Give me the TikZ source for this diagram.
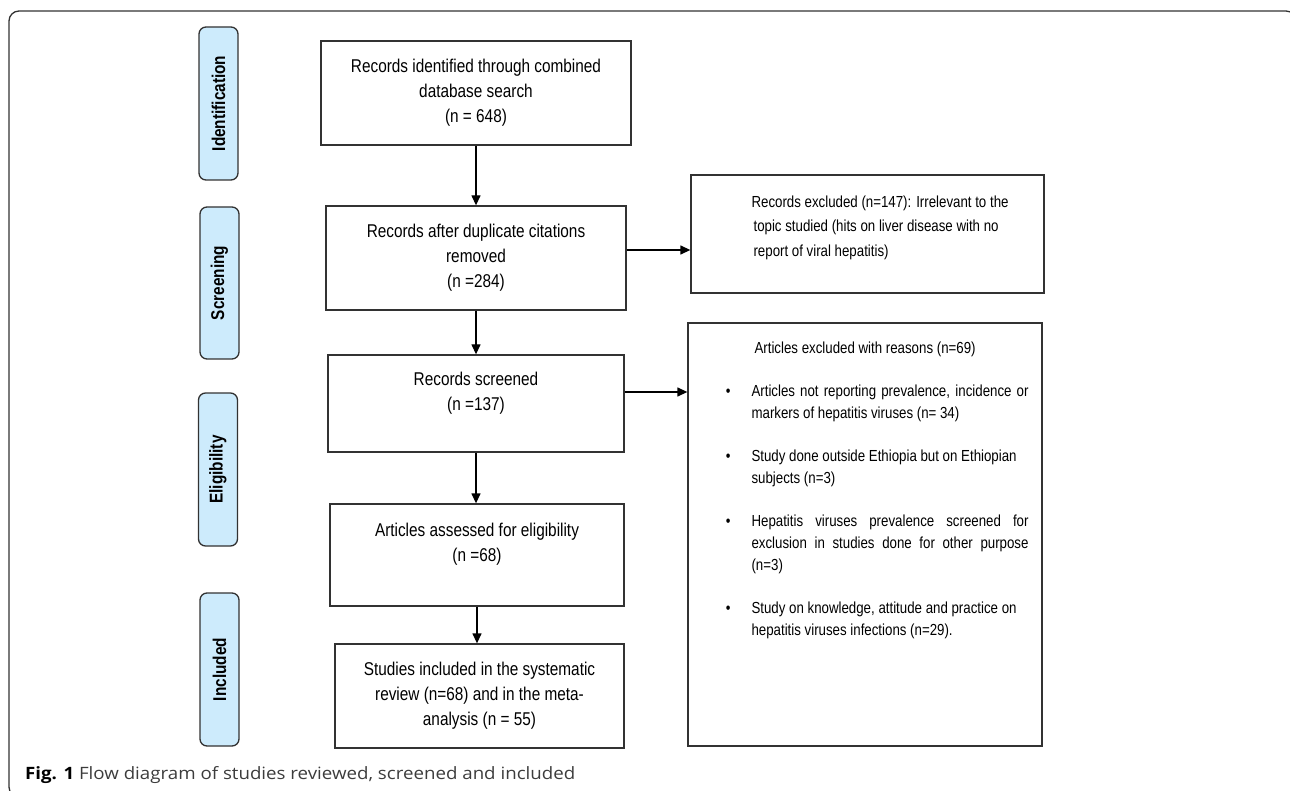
\documentclass[tikz,border=0pt]{standalone}
\usepackage{fontspec}
\setmainfont{Liberation Sans}
\newfontfamily\narrowsans{Liberation Sans}[FakeStretch=0.83]
\newfontfamily\capfamily{Open Sans}[FakeStretch=1.1]
\usetikzlibrary{arrows.meta,calc}
\definecolor{labfill}{RGB}{205,235,252}
\definecolor{edge}{RGB}{50,50,50}
\definecolor{captxt}{RGB}{60,60,60}
\newcommand{\mainfnt}{\narrowsans\fontsize{18.5}{25}\selectfont}
\newcommand{\rfnt}{\narrowsans\fontsize{16}{24.5}\selectfont}
\newcommand{\rbfnt}{\narrowsans\fontsize{16}{22}\selectfont}
\newcommand{\labfnt}{\narrowsans\bfseries\fontsize{18.5}{22}\selectfont}
\newcommand{\capfnt}{\capfamily\fontsize{17}{20}\selectfont}
\newcommand{\bulmark}{\makebox[0pt][r]{\textbullet\hspace{21pt}}}
\begin{document}
\begin{tikzpicture}[x=1pt,y=-1pt,
  box/.style={draw=edge, line width=1.3pt, inner sep=0pt, align=center, font=\mainfnt},
  xbox/.style={draw=edge, line width=1.3pt, inner sep=0pt},
  stage/.style={draw=edge, line width=1.3pt, fill=labfill, rounded corners=7pt, rotate=90, inner sep=0pt, minimum height=39pt, font=\labfnt},
  arr/.style={line width=1.3pt, -{Triangle[length=10pt,width=9pt]}},
  txt/.style={anchor=base west, inner sep=0pt}
]
\useasboundingbox (0,0) rectangle (1290,791);
\begin{scope}
\clip (0,0) rectangle (1290,791);
\draw[edge, line width=1.3pt, rounded corners=10pt] (9,11) rectangle (1296,797);
\end{scope}

% stage labels
\node[stage, minimum width=153pt] (s1) at (218.5,103.5) {Identification};
\node[stage, minimum width=152pt] (s2) at (219.5,283) {Screening};
\node[stage, minimum width=153pt] (s3) at (218,469.5) {Eligibility};
\node[stage, minimum width=153pt] (s4) at (219.5,669.5) {Included};

% main boxes
\node[box, minimum width=310pt, minimum height=104pt] (b1) at (476,93) {Records identified through combined\\database search\\(n = 648)};
\node[box, minimum width=300pt, minimum height=104pt] (b2) at (476,258) {Records after duplicate citations\\removed\\(n =284)};
\node[box, minimum width=296pt, minimum height=97pt] (b3) at (476,403.5) {Records screened\\(n =137)\\\mbox{}};
\node[box, minimum width=294pt, minimum height=102pt] (b4) at (477,555) {Articles assessed for eligibility\\(n =68)\\\mbox{}};
\node[box, minimum width=289pt, minimum height=104pt] (b5) at (479.5,696) {Studies included in the systematic\\review (n=68) and in the meta-\\analysis (n = 55)};

% right boxes
\node[xbox, minimum width=353pt, minimum height=118pt] (r1) at (867.5,234) {};
\node[txt, font=\rfnt] (r1t) at ($(r1.north west)+(61,33)$) {\parbox[t]{300pt}{\raggedright Records excluded (n=147): Irrelevant to the\\\hspace*{2pt}topic studied (hits on liver disease with no\\\hspace*{2pt}report of viral hepatitis)}};

\node[xbox, minimum width=354pt, minimum height=423pt] (r2) at (865,534.5) {};
\node[txt, font=\rbfnt] (r2t) at ($(r2.north west)+(64,31.5)$) {\parbox[t]{290pt}{\raggedright
\hspace*{3pt}Articles excluded with reasons (n=69)\\[21pt]
\bulmark\makebox[277pt][s]{Articles not reporting prevalence, incidence or}\\
markers of hepatitis viruses (n= 34)\\[21pt]
\bulmark Study done outside Ethiopia but on Ethiopian\\
subjects (n=3)\\[21pt]
\bulmark\makebox[277pt][s]{Hepatitis viruses prevalence screened for}\\
\makebox[277pt][s]{exclusion in studies done for other purpose}\\
(n=3)\\[21pt]
\bulmark Study on knowledge, attitude and practice on\\
hepatitis viruses infections (n=29).}};

% arrows
\draw[arr] (b1.south) -- (b1.south |- b2.north);
\draw[arr] (b2.south) -- (b2.south |- b3.north);
\draw[arr] (b3.south) -- (b3.south |- b4.north);
\draw[arr] (b4.south) -- (b4.south |- b5.north);
\draw[arr] (b2.east |- 0,250) -- (r1.west |- 0,250);
\draw[arr] (b3.east |- 0,392) -- (r2.west |- 0,392);

% caption
\node[txt, font=\capfnt, text=captxt] (cap) at (25,779) {\textbf{\color{black}Fig. 1} Flow diagram of studies reviewed, screened and included};
\end{tikzpicture}
\end{document}
